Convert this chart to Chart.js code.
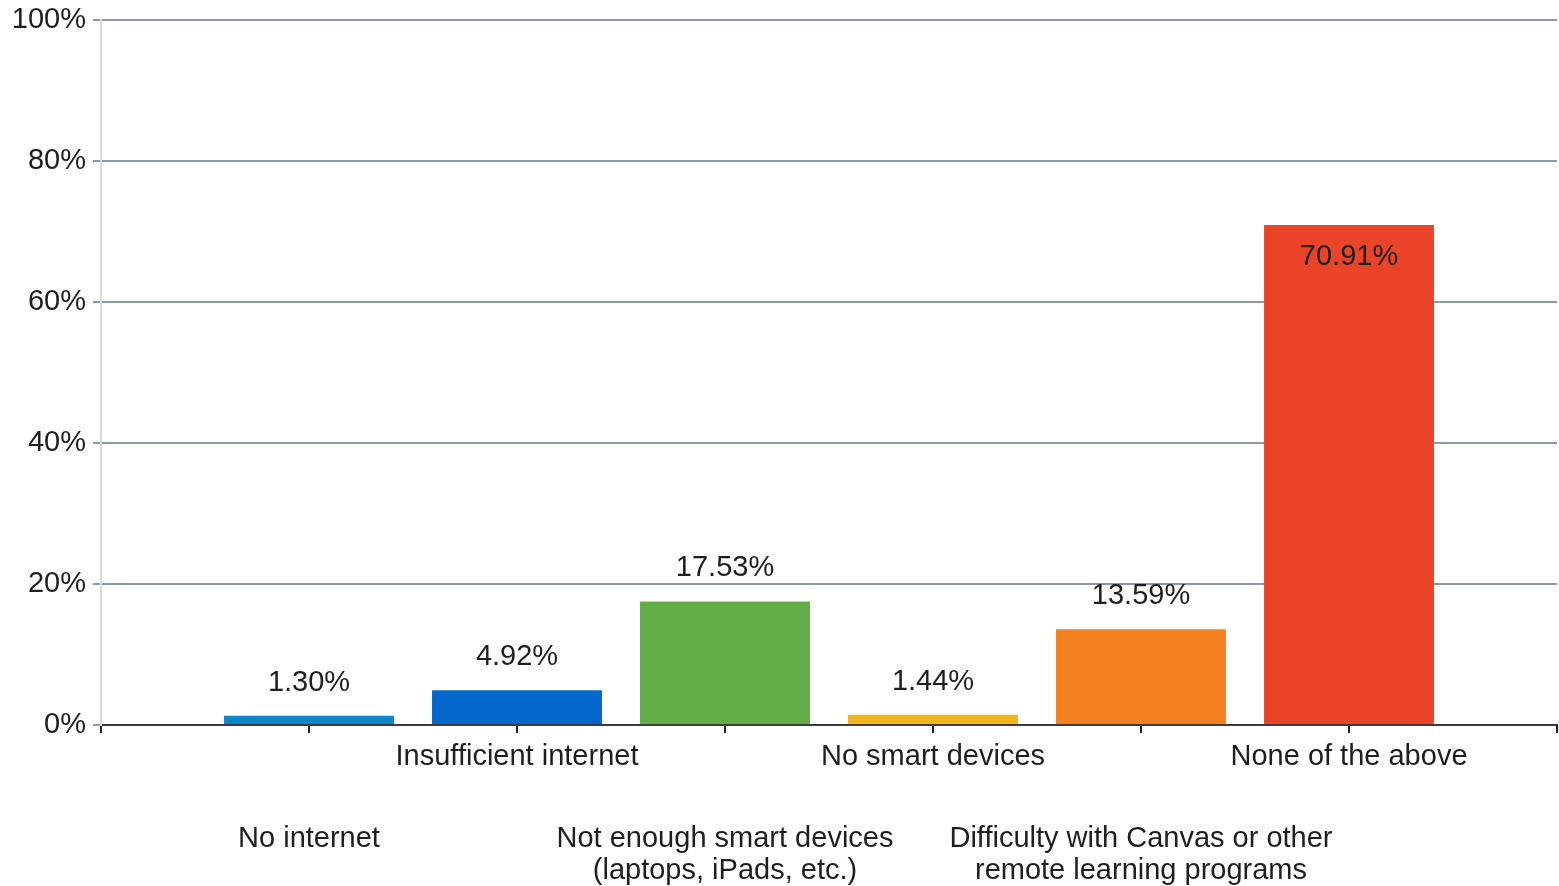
<!DOCTYPE html>
<html>
<head>
<meta charset="utf-8">
<script src="https://cdn.jsdelivr.net/npm/chart.js@4/dist/chart.umd.min.js"></script>
<style>
html,body{margin:0;padding:0;background:#fff;}
#wrap{width:1559px;height:886px;position:relative;}
</style>
</head>
<body>
<div id="wrap"><canvas id="myChart"></canvas></div>
<script>
// answers and their shares (percent)
var categories=["No internet","Insufficient internet","Not enough smart devices (laptops, iPads, etc.)","No smart devices","Difficulty with Canvas or other remote learning programs","None of the above"];
var labelLines=[["No internet"],["Insufficient internet"],["Not enough smart devices","(laptops, iPads, etc.)"],["No smart devices"],["Difficulty with Canvas or other","remote learning programs"],["None of the above"]];
var values=[1.30,4.92,17.53,1.44,13.59,70.91];
var barColors=["#0e85c7","#0566cc","#63ad47","#f1b520","#f48020","#e94427"];
var yTicks=[0,20,40,60,80,100];

var font="'Liberation Sans', Arial, sans-serif";

// empty slot at both ends so the bars sit on the inner ticks
var labels=[""].concat(categories,[""]);
var data=[null].concat(values,[null]);
var colors=["#fff"].concat(barColors,["#fff"]);

var labelPlugin={
    id:"labelPlugin",
    afterDraw:function(chart){
        var ctx=chart.ctx;
        var xs=chart.scales.x;
        ctx.save();
        ctx.font="29px "+font;
        ctx.fillStyle="#1e1e1e";
        ctx.textAlign="center";
        ctx.textBaseline="middle";
        //category names, staggered in two rows
        for(var i=0;i<labelLines.length;i++){
            var x=xs.getPixelForValue(i+1);
            var y0=(i%2==1)?757:839;
            for(var j=0;j<labelLines[i].length;j++){
                ctx.fillText(labelLines[i][j],x,y0+j*32);
            }
        }
        //value labels
        var meta=chart.getDatasetMeta(0);
        meta.data.forEach(function(bar,k){
            var v=data[k];
            if(v===null) return;
            var y=(v>60)?bar.y+32:bar.y-33;
            ctx.fillText(v.toFixed(2)+"%",bar.x,y);
        });
        ctx.restore();
    }
};

var chart=new Chart(document.getElementById("myChart").getContext("2d"),{
    type:"bar",
    data:{
        labels:labels,
        datasets:[{
            data:data,
            backgroundColor:colors,
            barPercentage:0.817,
            categoryPercentage:1
        }]
    },
    options:{
        responsive:true,
        maintainAspectRatio:false,
        animation:false,
        layout:{padding:{top:20,right:2,left:0,bottom:0}},
        plugins:{legend:{display:false},tooltip:{enabled:false}},
        scales:{
            x:{
                offset:false,
                grid:{display:true,offset:false,drawOnChartArea:false,color:"#202020",lineWidth:2,tickLength:8},
                border:{display:true,color:"#3c3c3c",width:2},
                ticks:{display:false,autoSkip:false},
                afterFit:function(s){s.height=161;}
            },
            y:{
                min:0,
                max:100,
                afterBuildTicks:function(s){s.ticks=yTicks.map(function(v){return {value:v};});},
                grid:{color:"#8a9ba6",lineWidth:2,tickLength:8},
                border:{display:true,color:"#d4dbe6",width:2},
                ticks:{
                    padding:7,
                    color:"#1e1e1e",
                    font:{family:font,size:29},
                    callback:function(v){return v+"%";}
                },
                afterFit:function(s){s.width=101;s.paddingTop=0;s.paddingBottom=0;}
            }
        }
    },
    plugins:[labelPlugin]
});
</script>
</body>
</html>
